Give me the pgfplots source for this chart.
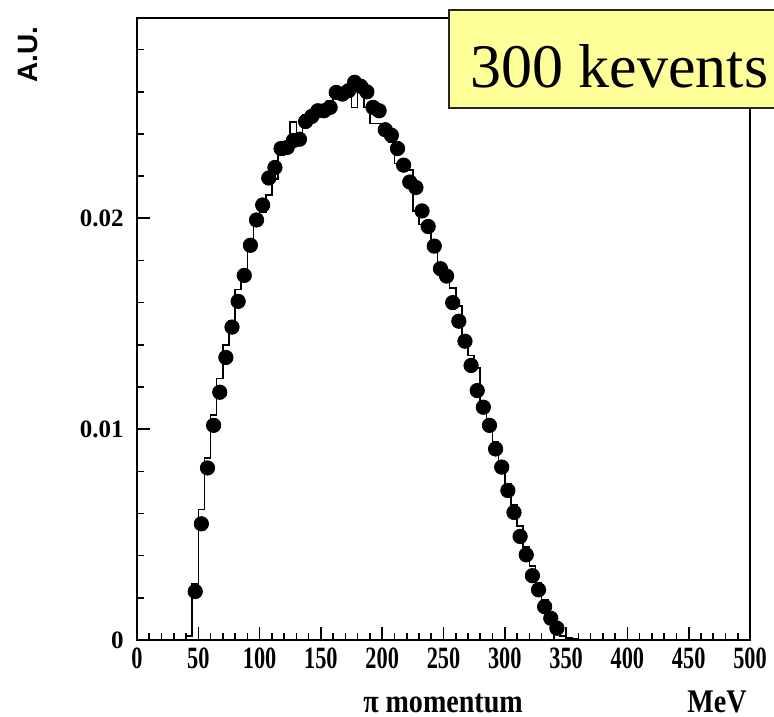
\documentclass[border=0pt]{standalone}
\usepackage{pgfplots}
\pgfplotsset{compat=1.18}
\usepackage{pgfplotstable}
\usepackage{fontspec}
\setmainfont{Liberation Serif}
\newfontfamily\labfont[FakeStretch=0.85]{Liberation Serif}
\newfontfamily\xtfont[FakeStretch=0.72]{Liberation Serif}
\newfontfamily\sansf{Liberation Sans}
\definecolor{boxy}{RGB}{255,255,153}

\pgfplotstableread{
x y
35 0
40 0.0002
45 0.00266
50 0.00618
55 0.00863
60 0.01066
65 0.0124
70 0.0140
75 0.01515
80 0.01663
85 0.0170
90 0.0190
95 0.01971
100 0.0203
105 0.0211
110 0.02185
115 0.0230
120 0.0236
125 0.02458
130 0.0237
135 0.0249
140 0.0250
145 0.0252
150 0.0254
155 0.02557
160 0.02605
165 0.0261
170 0.0263
175 0.02526
180 0.0262
185 0.02526
190 0.0245
195 0.0245
200 0.0245
205 0.0236
210 0.0226
215 0.0225
220 0.0223
225 0.02035
230 0.01971
235 0.01932
240 0.0190
245 0.0178
250 0.0172
255 0.0167
260 0.01583
265 0.0143
270 0.0135
275 0.0129
280 0.0113
285 0.0104
290 0.0094
295 0.0084
300 0.0074
305 0.0064
310 0.0054
315 0.0044
320 0.0035
325 0.0027
330 0.0019
335 0.0012
340 0.0006
345 0.0002
350 0.0001
355 0.00005
360 0.00003
380 0.00002
400 0.00001
500 0.00001
}\histo

\pgfplotstableread{
x y
47.5 0.00230
52.5 0.00551
57.5 0.00816
62.5 0.01018
67.5 0.01175
72.5 0.01340
77.5 0.01484
82.5 0.01606
87.5 0.01729
92.5 0.01872
97.5 0.01992
102.5 0.02063
107.5 0.02191
112.5 0.02241
117.5 0.02331
122.5 0.02336
127.5 0.02369
132.5 0.02375
137.5 0.02459
142.5 0.02483
147.5 0.02510
152.5 0.02510
157.5 0.02526
162.5 0.02597
167.5 0.02589
172.5 0.02605
177.5 0.02645
182.5 0.02626
187.5 0.02600
192.5 0.02526
197.5 0.02510
202.5 0.02420
207.5 0.02394
212.5 0.02331
217.5 0.02252
222.5 0.02172
227.5 0.02146
232.5 0.02035
237.5 0.01961
242.5 0.01868
247.5 0.01761
252.5 0.01726
257.5 0.01600
262.5 0.01512
267.5 0.01417
272.5 0.01302
277.5 0.01183
282.5 0.01104
287.5 0.01018
292.5 0.00906
297.5 0.00820
302.5 0.00709
307.5 0.00605
312.5 0.00491
317.5 0.00404
322.5 0.00305
327.5 0.00238
332.5 0.00158
337.5 0.00103
342.5 0.00056
}\pts

\begin{document}
\begin{tikzpicture}
\begin{axis}[
  at={(68.5bp,38.5bp)}, anchor=south west,
  scale only axis, width=306.5bp, height=311bp,
  xmin=0, xmax=500, ymin=0, ymax=0.0295,
  axis line style={line width=1bp},
  tick pos=left, tick align=inside,
  xtick={0,50,100,150,200,250,300,350,400,450,500},
  xticklabels={0,50,100,150,200,250,300,350,400,450,500},
  minor x tick num=4,
  ytick={0,0.01,0.02},
  yticklabels={0,0.01,0.02},
  minor ytick={0.002,0.004,0.006,0.008,0.012,0.014,0.016,0.018,0.022,0.024,0.026,0.028},
  major tick length=6.5bp, minor tick length=3.5bp,
  every tick/.style={black, line width=0.8bp},
  xticklabel style={font=\xtfont\bfseries\fontsize{15.5bp}{15.5bp}\selectfont, anchor=north, inner sep=0pt, yshift=-3.5bp},
  yticklabel style={font=\bfseries\fontsize{12.5bp}{12.5bp}\selectfont, anchor=east, inner sep=0pt, xshift=-6.5bp},
  scaled y ticks=false,
]
\addplot[const plot mark left, black, line width=0.8bp, no marks] table[x=x,y=y] {\histo};
\addplot[only marks, mark=*, mark size=3.6bp, black] table[x=x,y=y] {\pts};
\end{axis}
\draw[fill=boxy, draw=black!85, line width=0.6bp] (224.5bp,304.5bp) rectangle (400bp,353.5bp);
\node[anchor=base west, inner sep=0pt] at (235bp,314.5bp) {\fontsize{31bp}{31bp}\selectfont 300 kevents};
\node[anchor=base, inner sep=0pt] at (221.5bp,2.5bp) {\labfont\bfseries\fontsize{16.5bp}{16.5bp}\selectfont π momentum};
\node[anchor=base, inner sep=0pt] at (358.5bp,2.5bp) {\labfont\bfseries\fontsize{16.5bp}{16.5bp}\selectfont MeV};
\node[rotate=90, anchor=east, inner sep=0pt] at (14bp,345.5bp) {\sansf\bfseries\fontsize{14bp}{14bp}\selectfont A.U.};
\pgfresetboundingbox
\useasboundingbox (0,0) rectangle (387bp,358.5bp);
\end{tikzpicture}
\end{document}
